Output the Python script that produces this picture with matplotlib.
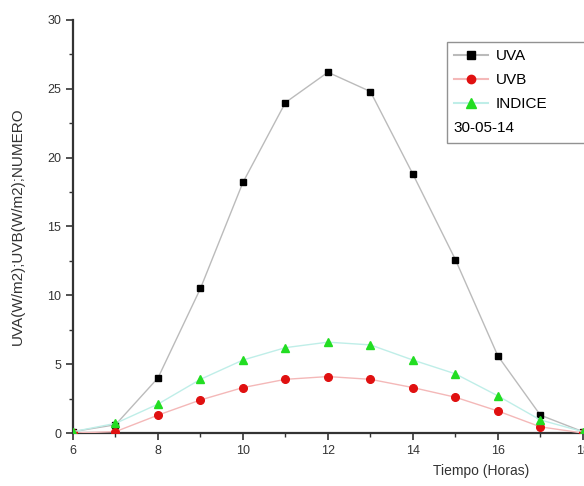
import matplotlib
matplotlib.use("Agg")
import matplotlib.pyplot as plt
from matplotlib.ticker import MultipleLocator
from matplotlib.lines import Line2D

plt.rcParams['font.family'] = ['Liberation Sans', 'DejaVu Sans']

horas = [6, 7, 8, 9, 10, 11, 12, 13, 14, 15, 16, 17, 18]
uva = [0.1, 0.6, 4.0, 10.5, 18.2, 24.0, 26.2, 24.8, 18.8, 12.6, 5.6, 1.3, 0.1]
uvb = [0.0, 0.1, 1.3, 2.4, 3.3, 3.9, 4.1, 3.9, 3.3, 2.6, 1.6, 0.45, 0.0]
indice = [0.1, 0.7, 2.1, 3.9, 5.3, 6.2, 6.6, 6.4, 5.3, 4.3, 2.7, 0.95, 0.1]

fig = plt.figure(figsize=(5.84, 4.86), dpi=100)
ax = fig.add_axes([0.125, 0.109, 0.873, 0.85])

ax.plot(horas, uva, color='#bbbbbb', lw=1.0, marker='s', ms=5,
        mfc='black', mec='black', zorder=3)
ax.plot(horas, uvb, color='#f4b8b8', lw=1.0, marker='o', ms=5.5,
        mfc='#e01010', mec='#e01010', zorder=3)
ax.plot(horas, indice, color='#bfeee8', lw=1.0, marker='^', ms=6,
        mfc='#22dd22', mec='#22dd22', zorder=3)

ax.set_xlim(6, 18)
ax.set_ylim(0, 30)
ax.xaxis.set_major_locator(MultipleLocator(2))
ax.xaxis.set_minor_locator(MultipleLocator(1))
ax.yaxis.set_major_locator(MultipleLocator(5))
ax.yaxis.set_minor_locator(MultipleLocator(2.5))
ax.tick_params(which='major', direction='out', length=5, width=1.2,
               labelsize=9, colors='#333333')
ax.tick_params(which='minor', direction='out', length=3, width=1.0,
               colors='#333333')
ax.spines['top'].set_visible(False)
ax.spines['right'].set_visible(False)
for s in ('left', 'bottom'):
    ax.spines[s].set_linewidth(1.6)
    ax.spines[s].set_color('#333333')

ax.set_ylabel('UVA(W/m2);UVB(W/m2);NUMERO', fontsize=11, color='#333333')
ax.yaxis.set_label_coords(-0.095, 0.5)
ax.set_xlabel('Tiempo (Horas)', fontsize=10, color='#333333')
ax.xaxis.set_label_coords(0.8, -0.075)

handles = [
    Line2D([], [], color='#bbbbbb', marker='s', ms=5.5, mfc='black', mec='black'),
    Line2D([], [], color='#f4b8b8', marker='o', ms=6, mfc='#e01010', mec='#e01010'),
    Line2D([], [], color='#bfeee8', marker='^', ms=6.5, mfc='#22dd22', mec='#22dd22'),
    Line2D([], [], color='none'),
]
leg = ax.legend(handles, ['UVA', 'UVB', 'INDICE', '30-05-14'],
                loc='upper left', bbox_to_anchor=(0.733, 0.947, 0.3, 0),
                mode='expand', borderaxespad=0, frameon=True, fancybox=False,
                edgecolor='#777777', fontsize=11, handlelength=2.2,
                handletextpad=0.5, labelspacing=0.65, borderpad=0.5)
leg.get_frame().set_linewidth(1.0)
leg.get_texts()[3].set_position((-42, 0))

fig.savefig('out.png', dpi=100)
